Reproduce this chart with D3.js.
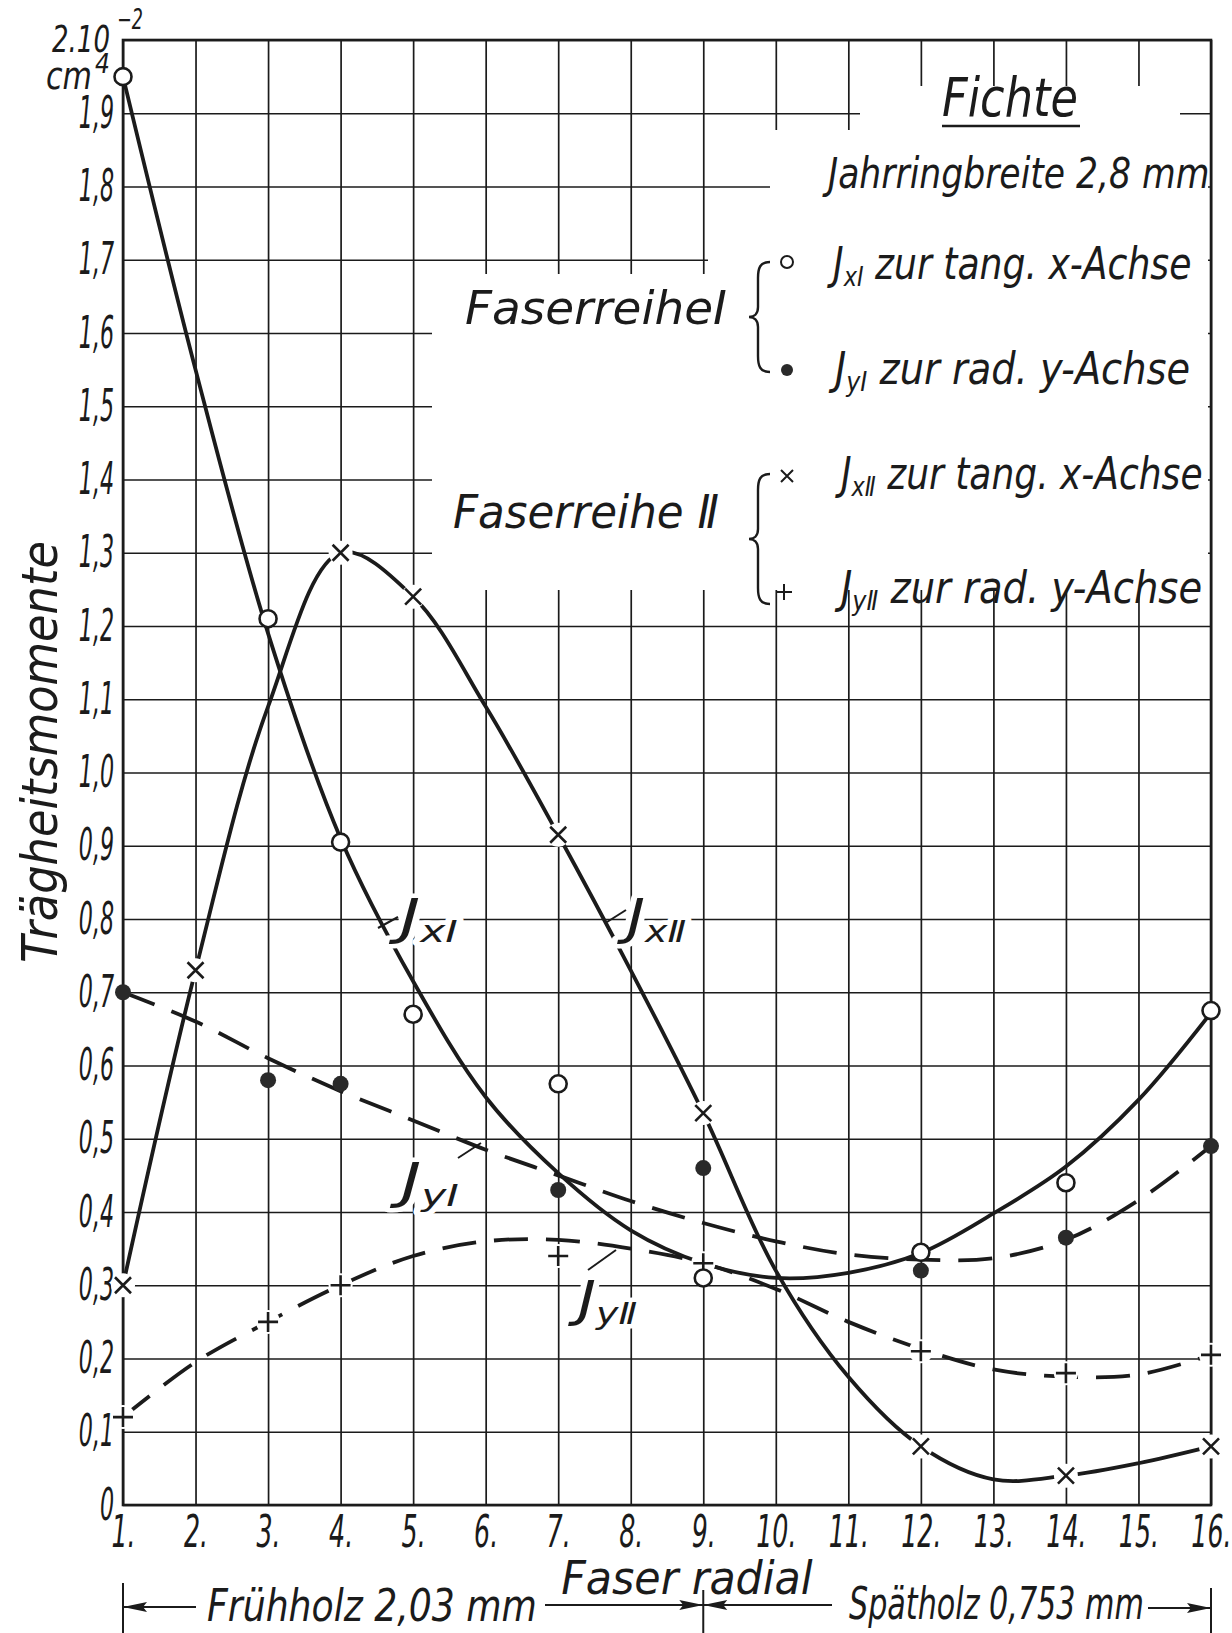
<!DOCTYPE html>
<html>
<head>
<meta charset="utf-8">
<script src="https://cdn.jsdelivr.net/npm/d3@7"></script>
<style>
  body { margin: 0; background: #fff; }
  text { font-family: "DejaVu Sans Condensed", "Liberation Sans Narrow", sans-serif; font-style: italic; fill: #1b1b1b; }
  .halo { paint-order: stroke; stroke: #fff; stroke-width: 9px; stroke-linejoin: round; }
</style>
</head>
<body>
<svg id="chart"></svg>
<script>
// Axis categories and tick labels
const fibreTicks = [1, 2, 3, 4, 5, 6, 7, 8, 9, 10, 11, 12, 13, 14, 15, 16];
const xTickLabels = ['1.', '2.', '3.', '4.', '5.', '6.', '7.', '8.', '9.', '10.', '11.', '12.', '13.', '14.', '15.', '16.'];
const valueTicks = [0, 0.1, 0.2, 0.3, 0.4, 0.5, 0.6, 0.7, 0.8, 0.9, 1.0, 1.1, 1.2, 1.3, 1.4, 1.5, 1.6, 1.7, 1.8, 1.9, 2.0];
const yTickLabels = ['0', '0,1', '0,2', '0,3', '0,4', '0,5', '0,6', '0,7', '0,8', '0,9', '1,0', '1,1', '1,2', '1,3', '1,4', '1,5', '1,6', '1,7', '1,8', '1,9', ''];

// Measured points (2.10^-2 cm4)
const fibresJxI = [1, 3, 4, 5, 7, 9, 12, 14, 16];
const valuesJxI = [1.95, 1.21, 0.905, 0.67, 0.575, 0.31, 0.345, 0.44, 0.675];
const fibresJyI = [1, 3, 4, 7, 9, 12, 14, 16];
const valuesJyI = [0.70, 0.58, 0.575, 0.43, 0.46, 0.32, 0.365, 0.49];
const fibresJxII = [1, 2, 4, 5, 7, 9, 12, 14, 16];
const valuesJxII = [0.30, 0.73, 1.30, 1.24, 0.915, 0.535, 0.08, 0.04, 0.08];
const fibresJyII = [1, 3, 4, 7, 9, 12, 14, 16];
const valuesJyII = [0.12, 0.25, 0.30, 0.34, 0.33, 0.21, 0.18, 0.205];

const curveFibres = [1, 2, 3, 4, 5, 6, 7, 8, 9, 10, 11, 12, 13, 14, 15, 16];
const curveJxI = [1.95, 1.55, 1.19, 0.91, 0.715, 0.557, 0.453, 0.375, 0.33, 0.31, 0.317, 0.344, 0.398, 0.462, 0.553, 0.672];
const curveJyI = [0.70, 0.66, 0.61, 0.565, 0.525, 0.485, 0.45, 0.415, 0.385, 0.36, 0.342, 0.335, 0.337, 0.362, 0.416, 0.49];
const curveJxII = [0.30, 0.73, 1.09, 1.30, 1.24, 1.09, 0.915, 0.73, 0.535, 0.32, 0.175, 0.08, 0.035, 0.04, 0.057, 0.08];
const curveJyII = [0.12, 0.195, 0.25, 0.30, 0.34, 0.36, 0.362, 0.35, 0.33, 0.295, 0.25, 0.213, 0.185, 0.175, 0.178, 0.205];

const width = 1232;
const height = 1633;
const ink = '#1b1b1b';

const svg = d3.select('#chart')
    .attr('width', width)
    .attr('height', height)
    .attr('viewBox', `0 0 ${width} ${height}`);

svg.append('rect').attr('width', width).attr('height', height).attr('fill', '#fff');

const x = d3.scaleLinear().domain([1, 16]).range([123, 1211]);
const y = d3.scaleLinear().domain([0, 2]).range([1505, 40]);

// squeeze a text horizontally to the width of the hand lettering
function fit(t, w) {
    const bb = t.node().getBBox();
    const k = w / bb.width;
    const ax = +t.attr('x'), ay = +t.attr('y');
    t.attr('transform', `translate(${ax},${ay}) scale(${k},1) translate(${-ax},${-ay})`);
    return t;
}

// grid + tick labels
const gx = svg.append('g')
    .attr('transform', `translate(0,${y(0)})`)
    .call(d3.axisBottom(x)
        .tickValues(fibreTicks)
        .tickSize(-(y(0) - y(2)))
        .tickPadding(11)
        .tickFormat((d, i) => xTickLabels[i]));

const gy = svg.append('g')
    .attr('transform', `translate(${x(1)},0)`)
    .call(d3.axisLeft(y)
        .tickValues(valueTicks)
        .tickSize(-(x(16) - x(1)))
        .tickPadding(16)
        .tickFormat((d, i) => yTickLabels[i]));

[gx, gy].forEach(g => {
    g.select('.domain').remove();
    g.selectAll('line').attr('stroke', ink).attr('stroke-width', 1.7);
    g.selectAll('text').attr('font-size', 44).attr('fill', ink).style('font-family', null);
});
gx.selectAll('text').attr('transform', 'scale(0.64,1)');
gy.selectAll('text').attr('transform', 'scale(0.56,1)');

// white areas around the legend, where the grid is left out
const masks = [[432, 274, 1208, 590], [708, 222, 1208, 274], [770, 130, 1208, 222], [860, 86, 1180, 130]];
svg.append('g').selectAll('rect')
    .data(masks)
    .enter().append('rect')
    .attr('x', d => d[0]).attr('y', d => d[1])
    .attr('width', d => d[2] - d[0]).attr('height', d => d[3] - d[1])
    .attr('fill', '#fff');

// frame
svg.append('rect')
    .attr('x', x(1)).attr('y', y(2))
    .attr('width', x(16) - x(1)).attr('height', y(0) - y(2))
    .attr('fill', 'none').attr('stroke', ink).attr('stroke-width', 2.6);

// curves
const line = d3.line()
    .x(d => x(d[0]))
    .y(d => y(d[1]))
    .curve(d3.curveCatmullRom.alpha(0.5));

const curves = [
    { values: curveJxI, dash: null },
    { values: curveJxII, dash: null },
    { values: curveJyI, dash: '34,18' },
    { values: curveJyII, dash: '34,18' }
];

svg.append('g').selectAll('path')
    .data(curves)
    .enter().append('path')
    .attr('d', d => line(d3.zip(curveFibres, d.values)))
    .attr('fill', 'none')
    .attr('stroke', ink)
    .attr('stroke-width', 3.8)
    .attr('stroke-linecap', 'butt')
    .attr('stroke-dasharray', d => d.dash);

// markers
function markerPath(type, s) {
    if (type === 'times') return `M${-s},${-s}L${s},${s}M${-s},${s}L${s},${-s}`;
    if (type === 'plus') return `M${-s},0L${s},0M0,${-s}L0,${s}`;
    return null;
}

function drawMarkers(g, fibres, values, type, halo) {
    const pts = d3.zip(fibres, values);
    if (halo) {
        g.append('g').selectAll('circle').data(pts).enter().append('circle')
            .attr('cx', d => x(d[0])).attr('cy', d => y(d[1]))
            .attr('r', halo).attr('fill', '#fff');
    }
    const m = g.append('g').selectAll('.m').data(pts).enter();
    if (type === 'open') {
        m.append('circle').attr('cx', d => x(d[0])).attr('cy', d => y(d[1])).attr('r', 8.5)
            .attr('fill', '#fff').attr('stroke', ink).attr('stroke-width', 2.6);
    } else if (type === 'dot') {
        m.append('circle').attr('cx', d => x(d[0])).attr('cy', d => y(d[1])).attr('r', 8)
            .attr('fill', '#2a2a2a');
    } else {
        m.append('path').attr('transform', d => `translate(${x(d[0])},${y(d[1])})`)
            .attr('d', markerPath(type, type === 'times' ? 8 : 10))
            .attr('stroke', ink).attr('stroke-width', 2.6).attr('fill', 'none');
    }
}

const mg = svg.append('g');
drawMarkers(mg, fibresJxII, valuesJxII, 'times', 12);
drawMarkers(mg, fibresJyII, valuesJyII, 'plus', 12);
drawMarkers(mg, fibresJyI, valuesJyI, 'dot', 0);
drawMarkers(mg, fibresJxI, valuesJxI, 'open', 0);

// J label with subscript
function jText(g, px, py, size, sub, rest, cls) {
    const t = g.append('text').attr('x', px).attr('y', py).attr('font-size', size);
    if (cls) t.attr('class', cls);
    t.append('tspan').text('J');
    t.append('tspan').attr('font-size', size * 0.62).attr('dy', size * 0.16).text(sub);
    if (rest) t.append('tspan').attr('dy', -size * 0.16).text(rest);
    return t;
}

// curve labels with leader strokes
const lg = svg.append('g');
const curveLabels = [
    { px: 400, py: 934, sub: 'x\u2160', lead: [[378, 928], [398, 917]] },
    { px: 627, py: 934, sub: 'x\u2161', lead: [[607, 922], [626, 910]] },
    { px: 401, py: 1198, sub: 'y\u2160', lead: [[458, 1158], [481, 1143]] },
    { px: 578, py: 1316, sub: 'y\u2161', lead: [[588, 1270], [616, 1250]] }
];
curveLabels.forEach(c => {
    fit(jText(lg, c.px, c.py, 50, c.sub, null, 'halo'), 70);
    lg.append('path').attr('d', d3.line()(c.lead)).attr('stroke', ink).attr('stroke-width', 2);
});

// legend
const leg = svg.append('g');
fit(leg.append('text').attr('x', 1010).attr('y', 116).attr('text-anchor', 'middle').attr('font-size', 54).text('Fichte'), 136);
leg.append('line').attr('x1', 942).attr('x2', 1080).attr('y1', 126).attr('y2', 126).attr('stroke', ink).attr('stroke-width', 2.6);
fit(leg.append('text').attr('x', 828).attr('y', 188).attr('font-size', 42).text('Jahrringbreite 2,8 mm'), 388);

fit(leg.append('text').attr('x', 465).attr('y', 324).attr('font-size', 46).text('Faserreihe\u2160'), 262);
fit(leg.append('text').attr('x', 453).attr('y', 528).attr('font-size', 46).text('Faserreihe \u2161'), 266);

function brace(x0, y0, y1) {
    const ym = (y0 + y1) / 2;
    return `M${x0 + 12},${y0} C${x0 + 2},${y0} ${x0},${y0 + 6} ${x0},${y0 + 16} L${x0},${ym - 10} C${x0},${ym - 3} ${x0 - 4},${ym} ${x0 - 9},${ym} C${x0 - 4},${ym} ${x0},${ym + 3} ${x0},${ym + 10} L${x0},${y1 - 16} C${x0},${y1 - 6} ${x0 + 2},${y1} ${x0 + 12},${y1}`;
}
leg.append('path').attr('d', brace(758, 262, 372)).attr('fill', 'none').attr('stroke', ink).attr('stroke-width', 2.4);
leg.append('path').attr('d', brace(758, 474, 604)).attr('fill', 'none').attr('stroke', ink).attr('stroke-width', 2.4);

leg.append('circle').attr('cx', 787).attr('cy', 262).attr('r', 6).attr('fill', 'none').attr('stroke', ink).attr('stroke-width', 2);
leg.append('circle').attr('cx', 787).attr('cy', 370).attr('r', 6).attr('fill', '#2a2a2a');
leg.append('path').attr('transform', 'translate(787,476)').attr('d', markerPath('times', 6)).attr('stroke', ink).attr('stroke-width', 2);
leg.append('path').attr('transform', 'translate(784,592)').attr('d', markerPath('plus', 8)).attr('stroke', ink).attr('stroke-width', 2);

fit(jText(leg, 833, 279, 44, 'x\u2160', '  zur tang. x-Achse'), 365);
fit(jText(leg, 835, 384, 44, 'y\u2160', ' zur rad. y-Achse'), 362);
fit(jText(leg, 841, 489, 44, 'x\u2161', ' zur tang. x-Achse'), 368);
fit(jText(leg, 841, 603, 44, 'y\u2161', ' zur rad. y-Achse'), 368);

// unit label at the top of the value axis
const unit = svg.append('g');
fit(unit.append('text').attr('x', 110).attr('y', 52).attr('text-anchor', 'end').attr('font-size', 38).text('2.10'), 58);
fit(unit.append('text').attr('x', 117).attr('y', 29).attr('font-size', 28).text('\u22122'), 26);
fit(unit.append('text').attr('x', 92).attr('y', 89).attr('text-anchor', 'end').attr('font-size', 38).text('cm'), 46);
unit.append('text').attr('x', 95).attr('y', 73).attr('font-size', 26).text('4');

// axis titles
const yTitle = svg.append('text')
    .attr('text-anchor', 'middle')
    .attr('font-size', 50)
    .text('Trägheitsmomente');
const yk = 422 / yTitle.node().getBBox().width;
yTitle.attr('transform', `translate(57,752) rotate(-90) scale(${yk},1)`);

fit(svg.append('text')
    .attr('x', 687).attr('y', 1594)
    .attr('text-anchor', 'middle')
    .attr('font-size', 46)
    .text('Faser radial'), 252);

// earlywood / latewood span
const span = svg.append('g');
function arrowHead(px, py, dir) {
    return `M${px},${py} L${px - dir * 24},${py - 5} L${px - dir * 20},${py} L${px - dir * 24},${py + 5} Z`;
}
[[x(1), 1583], [x(9), 1590], [x(16), 1588]].forEach(b => {
    span.append('line').attr('x1', b[0]).attr('x2', b[0]).attr('y1', b[1]).attr('y2', 1633)
        .attr('stroke', ink).attr('stroke-width', 2);
});
const spanLines = [
    { x1: x(1), x2: 196, yy: 1607, head: x(1), dir: -1 },
    { x1: 545, x2: x(9), yy: 1605, head: x(9), dir: 1 },
    { x1: x(9), x2: 832, yy: 1605, head: x(9), dir: -1 },
    { x1: 1148, x2: x(16), yy: 1608, head: x(16), dir: 1 }
];
spanLines.forEach(s => {
    span.append('line').attr('x1', s.x1).attr('x2', s.x2).attr('y1', s.yy).attr('y2', s.yy)
        .attr('stroke', ink).attr('stroke-width', 2);
    span.append('path').attr('d', arrowHead(s.head, s.yy, s.dir)).attr('fill', ink);
});
fit(span.append('text').attr('x', 207).attr('y', 1621).attr('font-size', 44).text('Frühholz 2,03 mm'), 330);
fit(span.append('text').attr('x', 849).attr('y', 1619).attr('font-size', 44).text('Spätholz 0,753 mm'), 295);
</script>
</body>
</html>
